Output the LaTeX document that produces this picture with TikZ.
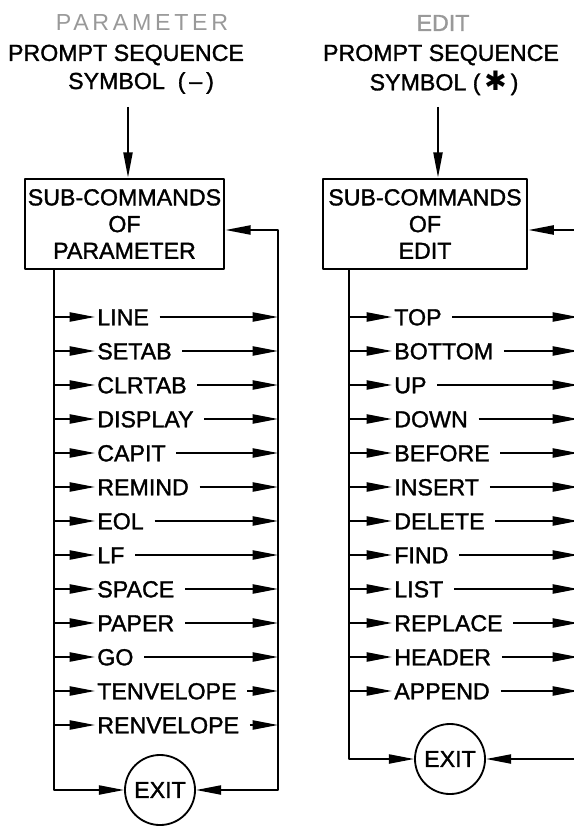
\documentclass[tikz,border=0pt]{standalone}
\usepackage{fontspec}
\setmainfont[FakeBold=1.4]{Liberation Sans}
\newfontfamily\widefont[LetterSpace=16]{Liberation Sans}
\newfontfamily\symfont{DejaVu Sans}
\usetikzlibrary{arrows.meta}
\begin{document}
\begin{tikzpicture}[x=0.025cm,y=-0.025cm,line join=round,line width=1.3pt,
    font=\fontsize{16.5}{19}\selectfont,
    >={Triangle[length=18pt,width=6.5pt]},
    subbox/.style={draw,line width=2pt,align=center,minimum height=2.25cm,inner sep=2pt},
    item/.style={anchor=west,inner xsep=1pt,inner ysep=0pt,text height=11.8pt,text depth=0pt},
    exitc/.style={draw,circle,minimum size=1.75cm,inner sep=0pt},
    faded/.style={text=black!40}]
  \useasboundingbox (0,0) rectangle (573,826);
  % PARAMETER side
  \node[faded] (ptitle) at (142,23) {\widefont PARAMETER};
  \node (pprompt) at (126,55) {PROMPT SEQUENCE};
  \node (psym) at (141,83) {SYMBOL\ \ (\,--\,)};
  \coordinate (pin) at (128,107);
  \node[subbox,minimum width=4.925cm] (pbox) at (124.5,224) {SUB-COMMANDS\\OF\\PARAMETER};
  \coordinate (pl) at (54,268);
  \coordinate (pr) at (278,230);
  \node[exitc] (pexit) at (160,790) {EXIT};
  \draw[->] (pin) -- (pin|-pbox.north);
  \draw[->] (pbox.south-|pl) -- (pl|-pexit) -- (pexit.west);
  \draw[<->] (pr-|pbox.east) -- (pr) -- (pr|-pexit) -- (pexit.east);
  \foreach \lbl [count=\i] in {LINE,SETAB,CLRTAB,DISPLAY,CAPIT,REMIND,EOL,LF,SPACE,PAPER,GO,TENVELOPE,RENVELOPE}{
    \node[item] (p\i) at (95,283+34*\i) {\lbl};
    \draw[->] (pl|-p\i.west) -- (p\i.west);
    \draw[->,shorten <=6pt] (p\i.east) -- (pr|-p\i.east);
  }
  % EDIT side
  \node[faded] (etitle) at (443,23) {EDIT};
  \node (eprompt) at (441,55) {PROMPT SEQUENCE};
  \node (esym) at (444,83) {SYMBOL (\,{\symfont\fontsize{19}{19}\selectfont ✱}\,)};
  \coordinate (ein) at (438,107);
  \node[subbox,minimum width=5.1cm] (ebox) at (425,224) {SUB-COMMANDS\\OF\\EDIT};
  \coordinate (el) at (349,268);
  \coordinate (er) at (578,230);
  \node[exitc] (eexit) at (450,759) {EXIT};
  \draw[->] (ein) -- (ein|-ebox.north);
  \draw[->] (ebox.south-|el) -- (el|-eexit) -- (eexit.west);
  \draw[<->] (er-|ebox.east) -- (er) -- (er|-eexit) -- (eexit.east);
  \foreach \lbl [count=\i] in {TOP,BOTTOM,UP,DOWN,BEFORE,INSERT,DELETE,FIND,LIST,REPLACE,HEADER,APPEND}{
    \node[item] (e\i) at (392,283+34*\i) {\lbl};
    \draw[->] (el|-e\i.west) -- (e\i.west);
    \draw[->,shorten <=6pt] (e\i.east) -- (er|-e\i.east);
  }
\end{tikzpicture}
\end{document}
